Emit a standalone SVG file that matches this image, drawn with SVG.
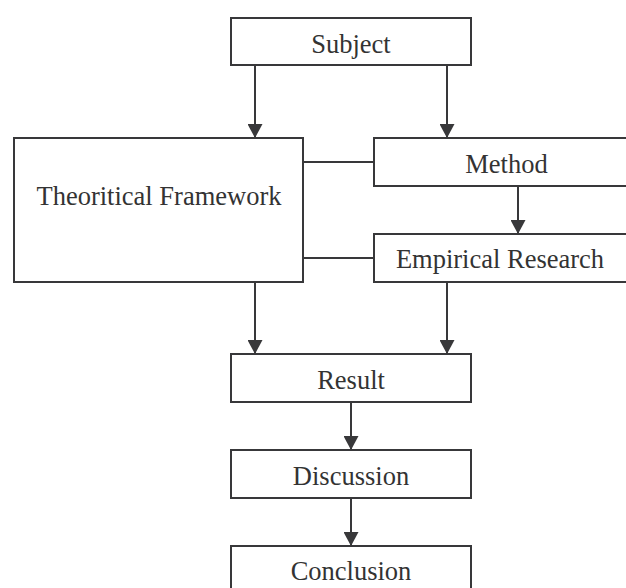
<svg xmlns="http://www.w3.org/2000/svg" width="626" height="588" viewBox="0 0 626 588">
<style>
.box{fill:#fff;stroke:#38383a;stroke-width:2}
.lbl{font-family:"Liberation Serif","Times New Roman",serif;font-size:26.5px;fill:#333;text-anchor:middle}
.conn{fill:none;stroke:#38383a;stroke-width:2}
</style>
<defs>
<marker id="ah" markerUnits="userSpaceOnUse" markerWidth="14" markerHeight="15" viewBox="0 0 14 15" refX="14" refY="7.5" orient="auto">
<path d="M0,0 L14,7.5 L0,15 z" fill="#38383a"/>
</marker>
</defs>
<rect width="626" height="588" fill="#fff"/>
<g id="connectors">
<path class="conn" d="M255,65 V138" marker-end="url(#ah)"/>
<path class="conn" d="M447,65 V138" marker-end="url(#ah)"/>
<path class="conn" d="M303,162 H374"/>
<path class="conn" d="M303,258 H374"/>
<path class="conn" d="M518,186 V234" marker-end="url(#ah)"/>
<path class="conn" d="M255,282 V354" marker-end="url(#ah)"/>
<path class="conn" d="M447,282 V354" marker-end="url(#ah)"/>
<path class="conn" d="M351,402 V450" marker-end="url(#ah)"/>
<path class="conn" d="M351,498 V546" marker-end="url(#ah)"/>
</g>
<g id="subject"><rect class="box" x="231" y="18" width="240" height="47"/><text class="lbl" x="351" y="53">Subject</text></g>
<g id="framework"><rect class="box" x="14" y="138" width="289" height="144"/><text class="lbl" x="159" y="205">Theoritical Framework</text></g>
<g id="method"><rect class="box" x="374" y="138" width="270" height="48"/><text class="lbl" x="506.5" y="173">Method</text></g>
<g id="empirical"><rect class="box" x="374" y="234" width="270" height="48"/><text class="lbl" x="500" y="268">Empirical Research</text></g>
<g id="result"><rect class="box" x="231" y="354" width="240" height="48"/><text class="lbl" x="351" y="389">Result</text></g>
<g id="discussion"><rect class="box" x="231" y="450" width="240" height="48"/><text class="lbl" x="351" y="485">Discussion</text></g>
<g id="conclusion"><rect class="box" x="231" y="546" width="240" height="60"/><text class="lbl" x="351" y="580">Conclusion</text></g>
</svg>
